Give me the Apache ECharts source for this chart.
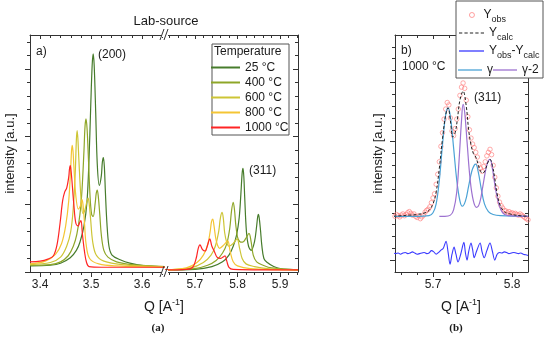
<!DOCTYPE html>
<html><head><meta charset="utf-8">
<script src="https://cdn.jsdelivr.net/npm/echarts@6.0.0/dist/echarts.min.js"></script>
<style>html,body{margin:0;padding:0;background:#fff}#c{width:550px;height:342px}</style>
</head><body><div id="c"></div>
<script>
// ---------------- data ----------------
const temperatures = ['25 °C', '400 °C', '600 °C', '800 °C', '1000 °C'];
const tempColors = ['#477c2c', '#8ea628', '#cdc535', '#f4c534', '#ff2424'];

// Panel a, (200) reflection: [Q, intensity]
const a200_25 = [[3.380,0.09],[3.420,0.10],[3.440,0.13],[3.459,0.21],[3.471,0.32],[3.478,0.44],[3.486,0.68],[3.492,1.05],[3.496,1.70],[3.499,2.40],[3.502,3.05],[3.504,3.22],[3.506,3.05],[3.509,2.35],[3.512,1.60],[3.516,1.28],[3.520,1.42],[3.522,1.62],[3.524,1.69],[3.526,1.55],[3.528,1.18],[3.531,0.72],[3.535,0.38],[3.541,0.25],[3.557,0.18],[3.576,0.13],[3.606,0.09],[3.645,0.08]];
const a200_400 = [[3.380,0.10],[3.420,0.11],[3.440,0.15],[3.455,0.24],[3.465,0.38],[3.472,0.56],[3.478,0.85],[3.482,1.20],[3.486,1.80],[3.488,2.15],[3.490,2.26],[3.492,2.12],[3.494,1.80],[3.498,1.10],[3.501,0.85],[3.504,0.82],[3.508,1.02],[3.510,1.16],[3.512,1.21],[3.514,1.12],[3.517,0.85],[3.520,0.55],[3.525,0.32],[3.533,0.22],[3.550,0.15],[3.580,0.11],[3.645,0.08]];
const a200_600 = [[3.380,0.11],[3.420,0.14],[3.440,0.22],[3.452,0.38],[3.460,0.60],[3.465,0.95],[3.469,1.50],[3.471,1.95],[3.4725,2.09],[3.474,1.97],[3.476,1.65],[3.480,1.10],[3.484,0.86],[3.488,0.92],[3.492,1.05],[3.494,1.09],[3.496,1.02],[3.499,0.78],[3.503,0.45],[3.510,0.25],[3.525,0.16],[3.560,0.11],[3.645,0.08]];
const a200_800 = [[3.380,0.12],[3.410,0.16],[3.430,0.26],[3.442,0.42],[3.450,0.68],[3.456,1.05],[3.460,1.55],[3.4615,1.79],[3.463,1.87],[3.4645,1.78],[3.466,1.58],[3.470,1.12],[3.475,0.93],[3.479,0.98],[3.482,1.07],[3.484,1.00],[3.487,0.72],[3.490,0.42],[3.497,0.20],[3.515,0.12],[3.550,0.09],[3.645,0.07]];
const a200_1000 = [[3.380,0.15],[3.400,0.16],[3.415,0.19],[3.426,0.24],[3.433,0.40],[3.439,0.72],[3.444,1.05],[3.448,1.18],[3.452,1.24],[3.456,1.40],[3.4575,1.52],[3.459,1.57],[3.4605,1.50],[3.462,1.38],[3.466,1.00],[3.470,0.72],[3.4745,0.68],[3.477,0.72],[3.480,0.76],[3.483,0.55],[3.487,0.30],[3.491,0.14],[3.496,0.08],[3.520,0.07],[3.645,0.07]];

// Panel a, (311) reflection
const a311_25 = [[5.630,0.03],[5.700,0.04],[5.740,0.08],[5.765,0.15],[5.780,0.25],[5.790,0.38],[5.798,0.55],[5.804,0.80],[5.808,1.15],[5.811,1.46],[5.813,1.53],[5.815,1.40],[5.817,1.10],[5.821,0.60],[5.826,0.38],[5.832,0.32],[5.840,0.45],[5.845,0.68],[5.8475,0.82],[5.849,0.85],[5.851,0.80],[5.854,0.62],[5.857,0.40],[5.862,0.20],[5.870,0.14],[5.885,0.08],[5.900,0.05],[5.942,0.03]];
const a311_400 = [[5.630,0.03],[5.700,0.05],[5.730,0.10],[5.750,0.17],[5.765,0.28],[5.775,0.42],[5.782,0.65],[5.786,0.90],[5.790,1.03],[5.793,0.92],[5.796,0.70],[5.800,0.52],[5.805,0.45],[5.812,0.44],[5.820,0.50],[5.827,0.57],[5.832,0.45],[5.837,0.25],[5.845,0.15],[5.860,0.10],[5.880,0.06],[5.942,0.03]];
const a311_600 = [[5.630,0.03],[5.690,0.06],[5.720,0.14],[5.738,0.25],[5.748,0.38],[5.756,0.60],[5.760,0.80],[5.764,0.88],[5.767,0.78],[5.770,0.58],[5.775,0.43],[5.780,0.38],[5.790,0.42],[5.799,0.49],[5.805,0.35],[5.811,0.20],[5.820,0.12],[5.840,0.08],[5.870,0.05],[5.942,0.03]];
const a311_800 = [[5.630,0.03],[5.680,0.06],[5.705,0.14],[5.720,0.25],[5.730,0.40],[5.736,0.60],[5.739,0.74],[5.742,0.78],[5.745,0.68],[5.749,0.50],[5.753,0.40],[5.758,0.35],[5.768,0.40],[5.777,0.46],[5.783,0.30],[5.790,0.15],[5.800,0.09],[5.830,0.05],[5.942,0.03]];
const a311_1000 = [[5.630,0.03],[5.680,0.04],[5.695,0.07],[5.703,0.20],[5.708,0.35],[5.712,0.40],[5.718,0.33],[5.724,0.31],[5.730,0.40],[5.735,0.49],[5.740,0.38],[5.746,0.30],[5.752,0.22],[5.760,0.20],[5.766,0.22],[5.771,0.24],[5.775,0.16],[5.780,0.07],[5.790,0.04],[5.942,0.03]];

// Panel b (1000 °C, (311))
const bYobs = [[5.650,0.76],[5.652,0.74],[5.654,0.77],[5.656,0.75],[5.658,0.73],[5.660,0.76],[5.662,0.78],[5.664,0.75],[5.666,0.77],[5.668,0.80],[5.670,0.82],[5.672,0.79],[5.674,0.76],[5.676,0.78],[5.678,0.74],[5.680,0.72],[5.682,0.75],[5.684,0.70],[5.686,0.73],[5.688,0.76],[5.690,0.81],[5.692,0.84],[5.694,0.86],[5.696,0.90],[5.698,0.97],[5.700,1.05],[5.702,1.12],[5.704,1.28],[5.706,1.45],[5.708,1.66],[5.710,1.92],[5.712,2.15],[5.714,2.38],[5.716,2.55],[5.718,2.66],[5.720,2.62],[5.722,2.40],[5.724,2.18],[5.726,2.10],[5.728,2.22],[5.730,2.38],[5.732,2.55],[5.734,2.78],[5.736,2.92],[5.738,2.99],[5.740,2.90],[5.742,2.70],[5.744,2.42],[5.746,2.20],[5.748,2.06],[5.750,1.96],[5.752,1.90],[5.754,1.82],[5.756,1.74],[5.758,1.62],[5.760,1.55],[5.762,1.50],[5.764,1.58],[5.766,1.66],[5.768,1.76],[5.770,1.82],[5.772,1.87],[5.774,1.78],[5.776,1.60],[5.778,1.40],[5.780,1.22],[5.782,1.08],[5.784,0.98],[5.786,0.92],[5.788,0.88],[5.790,0.84],[5.792,0.83],[5.794,0.80],[5.796,0.82],[5.798,0.79],[5.800,0.80],[5.802,0.78],[5.804,0.79],[5.806,0.77],[5.808,0.76],[5.810,0.78],[5.812,0.76],[5.814,0.74],[5.816,0.72],[5.818,0.70],[5.820,0.68]];
const bYcalc = [[5.650,0.74],[5.660,0.75],[5.670,0.76],[5.680,0.77],[5.690,0.80],[5.695,0.84],[5.700,0.95],[5.704,1.15],[5.708,1.55],[5.712,2.05],[5.716,2.45],[5.719,2.57],[5.722,2.35],[5.725,2.08],[5.728,2.15],[5.731,2.40],[5.734,2.70],[5.738,2.85],[5.742,2.60],[5.745,2.20],[5.748,1.95],[5.751,1.80],[5.754,1.74],[5.757,1.62],[5.760,1.50],[5.763,1.47],[5.766,1.52],[5.769,1.64],[5.772,1.70],[5.775,1.60],[5.778,1.38],[5.781,1.12],[5.785,0.92],[5.790,0.82],[5.797,0.78],[5.810,0.75],[5.820,0.74]];
const bDiff = [[5.650,0.12],[5.653,0.11],[5.656,0.12],[5.659,0.10],[5.662,0.12],[5.665,0.13],[5.668,0.11],[5.671,0.12],[5.674,0.14],[5.677,0.12],[5.680,0.10],[5.683,0.11],[5.686,0.12],[5.689,0.13],[5.692,0.11],[5.695,0.12],[5.698,0.16],[5.701,0.14],[5.704,0.10],[5.707,0.13],[5.710,0.17],[5.713,0.20],[5.7165,0.32],[5.719,0.14],[5.7215,-0.07],[5.724,0.10],[5.7266,0.22],[5.729,0.10],[5.7316,-0.03],[5.735,0.10],[5.739,0.30],[5.741,0.12],[5.743,0.00],[5.745,0.14],[5.748,0.29],[5.750,0.18],[5.752,0.04],[5.755,0.15],[5.7595,0.29],[5.762,0.14],[5.7646,0.04],[5.768,0.16],[5.772,0.29],[5.775,0.15],[5.778,0.00],[5.781,0.10],[5.784,0.13],[5.787,0.12],[5.790,0.14],[5.793,0.13],[5.796,0.11],[5.799,0.12],[5.802,0.13],[5.805,0.12],[5.808,0.11],[5.811,0.12],[5.814,0.10],[5.817,0.09],[5.820,0.08]];
const bGamma = [[5.650,0.74],[5.680,0.74],[5.695,0.75],[5.700,0.80],[5.704,0.95],[5.708,1.35],[5.712,1.95],[5.716,2.45],[5.719,2.57],[5.722,2.42],[5.726,1.90],[5.730,1.35],[5.734,1.00],[5.737,0.91],[5.741,1.00],[5.745,1.25],[5.749,1.50],[5.752,1.60],[5.754,1.62],[5.757,1.50],[5.761,1.20],[5.765,0.95],[5.770,0.82],[5.776,0.77],[5.785,0.75],[5.820,0.74]];
const bGamma2 = [[5.708,0.74],[5.715,0.74],[5.722,0.76],[5.726,0.85],[5.730,1.15],[5.733,1.70],[5.736,2.35],[5.738,2.63],[5.740,2.50],[5.743,2.00],[5.747,1.35],[5.751,1.00],[5.755,0.89],[5.759,0.97],[5.763,1.25],[5.767,1.55],[5.770,1.68],[5.772,1.70],[5.775,1.55],[5.779,1.20],[5.783,0.95],[5.788,0.80],[5.795,0.75],[5.820,0.74]];

// tick values
const aLeftXMajor = [3.4, 3.5, 3.6];
const aLeftXMinor = [3.42, 3.44, 3.46, 3.48, 3.52, 3.54, 3.56, 3.58, 3.62, 3.64];
const aRightXMajor = [5.7, 5.8, 5.9];
const aRightXMinor = [5.64, 5.66, 5.68, 5.72, 5.74, 5.76, 5.78, 5.82, 5.84, 5.86, 5.88, 5.92, 5.94];
const aYMajor = [0, 1, 2, 3];
const aYMinor = [0.2, 0.4, 0.6, 0.8, 1.2, 1.4, 1.6, 1.8, 2.2, 2.4, 2.6, 2.8, 3.2, 3.4];
const bXMajor = [5.7, 5.8];
const bXMinor = [5.66, 5.68, 5.72, 5.74, 5.76, 5.78];
const bYMajor = [0, 1, 2, 3];
const bYMinor = [0.2, 0.4, 0.6, 0.8, 1.2, 1.4, 1.6, 1.8, 2.2, 2.4, 2.6, 2.8, 3.2, 3.4, 3.6];

// ---------------- chart ----------------
const FONT = 'Liberation Sans';
const AX = '#333';
const xAxes = [], yAxes = [];
function axis(list, grid, min, max, pos, ticks, len, inside, line, labels, extra) {
  list.push(Object.assign({
    type: 'value', gridIndex: grid, min: min, max: max, position: pos,
    axisLine: { show: line, onZero: false, lineStyle: { color: AX, width: 1 } },
    axisTick: { show: true, inside: inside, length: len, customValues: ticks, lineStyle: { color: AX, width: 1 } },
    axisLabel: labels ? { show: true, customValues: labels, formatter: v => v.toFixed(1), fontFamily: FONT, fontSize: 12, color: '#222', margin: 7 } : { show: false },
    splitLine: { show: false }
  }, extra || {}));
  return list.length - 1;
}
const yName = (gap) => ({ name: 'intensity [a.u.]', nameLocation: 'middle', nameGap: gap, nameTextStyle: { fontFamily: FONT, fontSize: 13, color: '#222' } });

const ax0 = axis(xAxes, 0, 3.38, 3.645, 'bottom', aLeftXMajor, 5, false, true, aLeftXMajor);
axis(xAxes, 0, 3.38, 3.645, 'bottom', aLeftXMinor, 3, false, false, null);
axis(xAxes, 0, 3.38, 3.645, 'top', aLeftXMajor, 4, true, true, null);
axis(xAxes, 0, 3.38, 3.645, 'top', aLeftXMinor, 3, true, false, null);
const ay0 = axis(yAxes, 0, 0, 3.5, 'left', aYMajor, 5, false, true, null, yName(13));
axis(yAxes, 0, 0, 3.5, 'left', aYMinor, 3, false, false, null);
const ax1 = axis(xAxes, 1, 5.63, 5.942, 'bottom', aRightXMajor, 5, false, true, aRightXMajor);
axis(xAxes, 1, 5.63, 5.942, 'bottom', aRightXMinor, 3, false, false, null);
axis(xAxes, 1, 5.63, 5.942, 'top', aRightXMajor, 4, true, true, null);
axis(xAxes, 1, 5.63, 5.942, 'top', aRightXMinor, 3, true, false, null);
const ay1 = axis(yAxes, 1, 0, 3.5, 'right', aYMajor, 5, true, true, null);
axis(yAxes, 1, 0, 3.5, 'right', aYMinor, 3, true, false, null);
const ax2 = axis(xAxes, 2, 5.652, 5.82, 'bottom', bXMajor, 5, false, true, bXMajor);
axis(xAxes, 2, 5.652, 5.82, 'bottom', bXMinor, 3, false, false, null);
axis(xAxes, 2, 5.652, 5.82, 'top', bXMajor, 4, true, true, null);
axis(xAxes, 2, 5.652, 5.82, 'top', bXMinor, 3, true, false, null);
const ay2 = axis(yAxes, 2, -0.2, 3.8, 'left', bYMajor, 5, false, true, null, yName(10));
axis(yAxes, 2, -0.2, 3.8, 'left', bYMinor, 3, false, false, null);
axis(yAxes, 2, -0.2, 3.8, 'right', bYMajor, 5, true, true, null);
axis(yAxes, 2, -0.2, 3.8, 'right', bYMinor, 3, true, false, null);

const lineS = (name, data, color, xi, yi, extra) => Object.assign({
  type: 'line', name: name, data: data, xAxisIndex: xi, yAxisIndex: yi,
  smooth: 0.35, symbol: 'none', showSymbol: false, clip: true,
  lineStyle: { color: color, width: 1.2 }, itemStyle: { color: color }, z: 3
}, extra || {});

const set200 = [a200_25, a200_400, a200_600, a200_800, a200_1000];
const set311 = [a311_25, a311_400, a311_600, a311_800, a311_1000];
const series = [];
temperatures.forEach((t, i) => series.push(lineS(t, set200[i], tempColors[i], ax0, ay0)));
temperatures.forEach((t, i) => series.push(lineS(t, set311[i], tempColors[i], ax1, ay1)));
const OBS = '#ff7b7b';
series.push({ type: 'scatter', name: 'Yobs', data: bYobs, xAxisIndex: ax2, yAxisIndex: ay2, symbol: 'circle', symbolSize: 4.5,
  itemStyle: { color: 'rgba(255,255,255,0)', borderColor: OBS, borderWidth: 0.8 }, z: 2 });
series.push(lineS('γ', bGamma, '#4ba3d6', ax2, ay2, { smooth: 0.4 }));
series.push(lineS('γ-2', bGamma2, '#9d72d0', ax2, ay2, { smooth: 0.4 }));
series.push(lineS('Ycalc', bYcalc, '#222', ax2, ay2, { smooth: 0.4, lineStyle: { color: '#222', width: 1, type: [3, 2] }, z: 4 }));
series.push(lineS('Yobs-Ycalc', bDiff, '#3a3aff', ax2, ay2, { smooth: 0.3, lineStyle: { color: '#3a3aff', width: 1.1 } }));

const txt = (x, y, text, size, align, extra) => Object.assign({
  type: 'text', x: x, y: y, z: 100,
  style: { text: text, fontSize: size, fontFamily: FONT, fill: '#1a1a1a', align: align || 'left', verticalAlign: 'middle' }
}, extra || {});
const brk = (x, y) => ({ type: 'group', z: 100, children: [
  { type: 'rect', z: 100, shape: { x: x - 3, y: y - 2, width: 6, height: 4 }, style: { fill: '#fff' } },
  { type: 'line', z: 101, shape: { x1: x - 5, y1: y + 5, x2: x - 1, y2: y - 6 }, style: { stroke: AX, lineWidth: 1 } },
  { type: 'line', z: 101, shape: { x1: x - 1, y1: y + 5, x2: x + 3, y2: y - 6 }, style: { stroke: AX, lineWidth: 1 } }
]});
const qTitle = (x) => ({ type: 'text', x: x, y: 307, z: 100, style: {
  text: 'Q [A{sup|-1}]', fontSize: 14, fontFamily: FONT, fill: '#1a1a1a', align: 'center', verticalAlign: 'middle', lineHeight: 18,
  rich: { sup: { fontSize: 9, fontFamily: FONT, fill: '#1a1a1a', lineHeight: 10, verticalAlign: 'top' } } } });

const legendText = { fontFamily: FONT, fontSize: 12, color: '#1a1a1a' };
const subRich = { sub: { fontSize: 9, fontFamily: FONT, color: '#1a1a1a', lineHeight: 10, verticalAlign: 'bottom' } };
const DASH_ICON = 'path://M0,0h3v1h-3z M5,0h3v1h-3z M10,0h3v1h-3z M15,0h3v1h-3z M20,0h3v1h-3z';
const subFmt = n => ({ 'Yobs': 'Y{sub|obs}', 'Ycalc': 'Y{sub|calc}', 'Yobs-Ycalc': 'Y{sub|obs}-Y{sub|calc}' })[n];
const option = {
  animation: false,
  backgroundColor: '#fff',
  grid: [
    { left: 30, top: 35, width: 135, height: 237, outerBoundsMode: 'none' },
    { left: 165, top: 35, width: 133, height: 237, outerBoundsMode: 'none' },
    { left: 395, top: 35, width: 133, height: 237, outerBoundsMode: 'none' }
  ],
  xAxis: xAxes,
  yAxis: yAxes,
  legend: [
    { data: temperatures.map((t, i) => ({ name: t, icon: 'rect', itemStyle: { color: tempColors[i] } })),
      orient: 'vertical', left: 211, top: 60, padding: 0, itemGap: 0, itemWidth: 29, itemHeight: 2,
      textStyle: Object.assign({ lineHeight: 15 }, legendText), selectedMode: false, z: 110 },
    { data: [ { name: 'Yobs', icon: 'circle', itemStyle: { color: 'rgba(255,255,255,0)', borderColor: OBS, borderWidth: 0.9 } } ],
      orient: 'vertical', left: 469, top: 6, padding: 0, itemGap: 0, itemWidth: 13, itemHeight: 5,
      formatter: subFmt, textStyle: Object.assign({ lineHeight: 18, rich: subRich }, legendText), selectedMode: false, z: 110 },
    { data: [
        { name: 'Ycalc', icon: DASH_ICON, itemStyle: { color: '#222' } },
        { name: 'Yobs-Ycalc', icon: 'rect', itemStyle: { color: '#3a3aff' } } ],
      orient: 'vertical', left: 459, top: 24, padding: 0, itemGap: 0, itemWidth: 25, itemHeight: 1.3,
      formatter: subFmt, textStyle: Object.assign({ lineHeight: 18, rich: subRich }, legendText), selectedMode: false, z: 110 },
    { data: [ { name: 'γ', icon: 'rect', itemStyle: { color: '#4ba3d6' } }, { name: 'γ-2', icon: 'rect', itemStyle: { color: '#9d72d0' } } ],
      orient: 'horizontal', left: 458, top: 63, padding: 0, itemGap: 0, itemWidth: 24, itemHeight: 1.3,
      textStyle: Object.assign({ lineHeight: 14 }, legendText), selectedMode: false, z: 110 }
  ],
  graphic: [
    { type: 'rect', z: 90, shape: { x: 212, y: 44, width: 77, height: 91 }, style: { fill: '#fff', stroke: '#555', lineWidth: 1 } },
    { type: 'rect', z: 90, shape: { x: 456, y: 1, width: 87, height: 77 }, style: { fill: '#fff', stroke: '#555', lineWidth: 1 } },
    txt(214, 52, 'Temperature', 12),
    txt(166, 21, 'Lab-source', 13, 'center'),
    txt(36, 52, 'a)', 12),
    txt(98, 55, '(200)', 12),
    txt(249, 171, '(311)', 12),
    txt(401, 51, 'b)', 12),
    txt(402, 67, '1000 °C', 12),
    txt(474, 98, '(311)', 12),
    qTitle(164), qTitle(461),
    txt(158, 328, '(a)', 11, 'center', { style: { text: '(a)', fontSize: 11, fontWeight: 'bold', fontFamily: 'Liberation Serif', fill: '#1a1a1a', align: 'center', verticalAlign: 'middle' } }),
    txt(456, 328, '(b)', 11, 'center', { style: { text: '(b)', fontSize: 11, fontWeight: 'bold', fontFamily: 'Liberation Serif', fill: '#1a1a1a', align: 'center', verticalAlign: 'middle' } }),
    brk(165, 35), brk(165, 272)
  ],
  series: series
};
const chart = echarts.init(document.getElementById('c'), null, { renderer: 'canvas' });
chart.setOption(option);
</script>
</body></html>
